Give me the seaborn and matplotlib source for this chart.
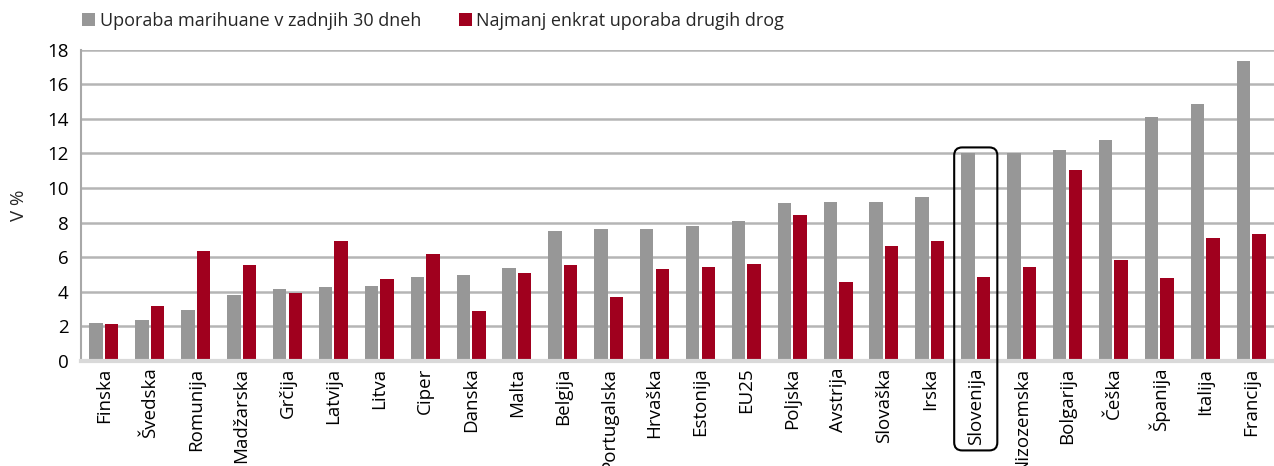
import pandas as pd
import matplotlib
matplotlib.use("Agg")
import matplotlib.pyplot as plt
from matplotlib.patches import FancyBboxPatch, Patch
from matplotlib.transforms import IdentityTransform
import seaborn as sns

# values
countries = ['Finska', 'Švedska', 'Romunija', 'Madžarska', 'Grčija', 'Latvija',
             'Litva', 'Ciper', 'Danska', 'Malta', 'Belgija', 'Portugalska',
             'Hrvaška', 'Estonija', 'EU25', 'Poljska', 'Avstrija', 'Slovaška',
             'Irska', 'Slovenija', 'Nizozemska', 'Bolgarija', 'Češka', 'Španija',
             'Italija', 'Francija']
marihuana = [2.2, 2.35, 2.95, 3.8, 4.15, 4.25, 4.3, 4.85, 4.95, 5.35, 7.5, 7.6,
             7.65, 7.8, 8.1, 9.15, 9.2, 9.2, 9.5, 12.0, 12.0, 12.2, 12.8, 14.1,
             14.85, 17.35]
other_drugs = [2.15, 3.15, 6.35, 5.55, 3.9, 6.95, 4.75, 6.2, 2.9, 5.1, 5.55, 3.7,
               5.3, 5.45, 5.6, 8.45, 4.55, 6.65, 6.95, 4.85, 5.4, 11.05, 5.85, 4.8,
               7.1, 7.35]
series_names = ['Uporaba marihuane v zadnjih 30 dneh', 'Najmanj enkrat uporaba drugih drog']
highlight = 'Slovenija'

colors = ['#979797', '#a0001e']

df = pd.DataFrame({'country': countries, series_names[0]: marihuana,
                   series_names[1]: other_drugs})
long_df = df.melt(id_vars='country', var_name='serie', value_name='value')

sns.set_style('white')
plt.rcParams['font.family'] = ['Open Sans', 'DejaVu Sans']
fs = 13.5

fig, ax = plt.subplots(figsize=(12.74, 4.66), dpi=100)
fig.subplots_adjust(left=0.0636, right=1.0, top=0.893, bottom=0.226)

sns.barplot(data=long_df, x='country', y='value', hue='serie', palette=colors,
            saturation=1, order=countries, hue_order=series_names, width=0.68,
            gap=0.14, edgecolor='none', ax=ax, legend=False)

ax.set_xlim(-0.5, len(countries) - 0.5)
ax.set_ylim(0, 18)
ax.set_yticks(range(0, 19, 2))
ax.yaxis.grid(True, color='#b5b5b5', linewidth=1.8)
ax.set_axisbelow(True)
for side in ['top', 'right']:
    ax.spines[side].set_visible(False)
ax.spines['left'].set_color('#a8a8a8')
ax.spines['left'].set_linewidth(1.5)
ax.spines['bottom'].set_color('#d9d9d9')
ax.spines['bottom'].set_linewidth(3)
ax.tick_params(axis='both', length=0, labelsize=fs, colors='black')
ax.tick_params(axis='y', pad=9)
ax.tick_params(axis='x', pad=5)
plt.setp(ax.get_xticklabels(), rotation=90)
ax.set_xlabel('')
ax.set_ylabel('V %', fontsize=fs, labelpad=14)

handles = [Patch(facecolor=c, edgecolor='none') for c in colors]
fig.legend(handles, series_names, loc='upper left', bbox_to_anchor=(0.052, 1.01),
           ncol=2, frameon=False, fontsize=13, handlelength=0.7,
           handleheight=0.7, handletextpad=0.25, columnspacing=2.1)

# rounded frame around Slovenija, drawn in pixel space so corners stay round
i = countries.index(highlight)
x0, y0 = ax.transData.transform((i - 0.47, 12.35))
x1, _ = ax.transData.transform((i + 0.47, 0))
y_bot = y0 - 303
box = FancyBboxPatch((x0, y_bot), x1 - x0, y0 - y_bot,
                     boxstyle='round,pad=0,rounding_size=8',
                     transform=IdentityTransform(), fill=False,
                     edgecolor='black', linewidth=1.5, clip_on=False, zorder=5)
fig.patches.append(box)

fig.savefig('out.png', dpi=100)
